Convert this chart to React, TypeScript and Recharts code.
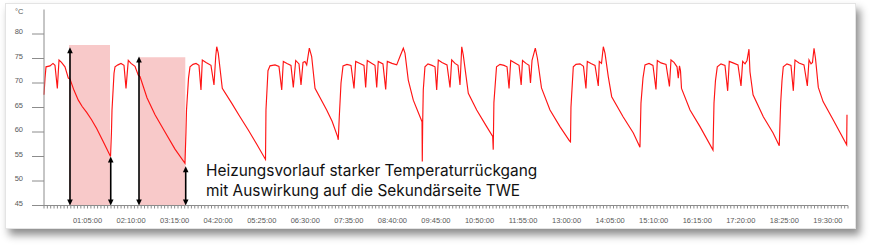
import React from "react";
import {
  LineChart,
  Line,
  XAxis,
  YAxis,
  ReferenceArea,
  ReferenceLine,
} from "recharts";

// time since 00:00 in minutes
const minutes = [
  0, 1.5, 3, 9, 13.4, 16.4, 19.9, 22.4, 26.1, 31.3, 36.3, 38.8, 44.8, 51.2, 57, 63.7, 71, 78.6, 88.5, 99.3, 100.7, 101.5, 104.5, 106,
  110.4, 114.9, 119.4, 122.4, 125.8, 129.9, 135.8, 140.7, 143.3, 153.7, 165.7, 180.6, 195.5, 210.4, 211.9, 212.7, 215.7, 217.9,
  222.4, 226.9, 231.3, 234.3, 236.3, 241.8, 249.2, 253.7, 256.3, 257.8, 260.1, 266.1, 280.1, 292, 304.9, 318, 330.6, 331.3, 334.3, 337.3,
  344.8, 350.7, 354.8, 357.2, 362.7, 368.6, 372.1, 375.7, 380.6, 383.6, 386.6, 389.5, 392.1, 396, 399.5, 404.5, 421.9, 430, 438.3, 439.2, 440.7, 443.3, 446.3,
  452.2, 458.2, 462.7, 465.2, 471.6, 477.6, 480.1, 482.5, 489.5, 494, 496.6, 498.9, 505.9, 510, 512.4, 519.4, 526.4, 531.3, 536.3, 538.8, 543.7, 551.2, 561.2, 564.2, 564.6, 565.2, 566.1, 568.6,
  573.1, 579.1, 583.6, 586.1, 588.5, 594, 601.5, 606, 608.5, 613.4, 617.9, 620.9, 623.5, 625.8, 633.3, 645.8, 660.7, 669.7, 670.5, 671.5, 675.4,
  680.6, 686.6, 691.1, 694.1, 696.6, 703, 709, 712.2, 714.2, 719.4, 723.9, 726.1, 728.4, 733.3, 736.5, 742.5, 755.2, 770.1, 784.3, 785.8, 786.5, 788, 790,
  794, 800, 805.2, 808.9, 810.9, 816.4, 822.4, 827.3, 828.8, 832.1, 834.8, 837.3, 842.2, 847.3, 864.3, 879.6, 889.5, 891, 894, 897,
  903, 908.9, 913.4, 915.4, 920.9, 928.4, 933.5, 935.8, 940.3, 944.8, 946.7, 948.5, 950, 951.5, 964.2, 979.1, 998.5, 1000, 1002.2, 1004.9,
  1010.4, 1016.4, 1020.4, 1022.8, 1028.4, 1035.8, 1040.3, 1042.8, 1046.3, 1049.3, 1052.2, 1053.7, 1058.3, 1073.6, 1088.2, 1097.4, 1099.5, 1101.5, 1103.4,
  1108.9, 1114.9, 1118.4, 1120.9, 1126.9, 1134.3, 1139.3, 1141.8, 1144.8, 1147, 1149.3, 1151.5, 1155.7, 1162.8, 1177.8, 1198, 1198.5,
];

// Vorlauftemperatur in °C
const tempC = [
  67.6, 71.0, 73.3, 73.5, 74.0, 73.6, 68.9, 74.7, 74.2, 73.3, 71.0, 70.8, 68.5, 66.5, 65.2, 64.0, 62.5, 60.7, 58.0, 55.0, 60.0, 64.5, 72.0, 73.3,
  73.7, 74.0, 73.6, 68.9, 74.6, 74.0, 73.4, 71.6, 71.3, 67.0, 63.5, 60.0, 56.5, 53.6, 60.0, 64.5, 71.0, 73.3,
  73.8, 74.0, 73.6, 68.6, 74.7, 74.2, 73.6, 69.6, 75.4, 77.4, 76.1, 68.9, 65.9, 63.2, 60.4, 57.4, 54.4, 64.5, 72.5, 73.5,
  73.7, 73.4, 68.6, 74.4, 74.0, 73.6, 69.1, 74.6, 73.9, 69.6, 74.2, 74.4, 73.7, 77.1, 75.4, 68.9, 64.5, 62.2, 59.0, 58.4, 63.0, 70.0, 73.5,
  73.8, 73.6, 68.9, 74.4, 74.0, 73.6, 69.1, 74.6, 74.0, 73.6, 69.1, 74.4, 73.9, 68.7, 74.4, 74.0, 73.7, 75.4, 77.1, 76.1, 70.6, 66.5, 63.1, 62.1, 54.0, 62.0, 68.6, 73.3,
  73.9, 73.6, 73.3, 68.6, 74.7, 74.2, 73.7, 69.1, 74.7, 74.0, 73.6, 69.6, 77.4, 75.7, 67.9, 64.5, 61.1, 59.1, 56.4, 66.0, 73.3,
  73.8, 73.6, 73.3, 68.9, 74.6, 74.1, 73.6, 69.6, 74.6, 74.0, 73.6, 70.0, 74.6, 77.1, 75.0, 69.0, 64.5, 61.1, 58.2, 58.0, 65.0, 68.6, 73.3,
  73.8, 73.9, 73.4, 68.9, 74.4, 74.0, 73.6, 69.4, 74.4, 74.0, 77.4, 76.1, 71.3, 67.2, 63.1, 59.8, 56.9, 65.9, 71.0, 73.7,
  74.0, 73.6, 68.7, 74.6, 74.1, 73.8, 69.3, 74.7, 74.2, 73.3, 71.0, 73.5, 72.5, 68.9, 64.5, 61.1, 56.3, 65.9, 70.5, 73.3,
  73.9, 73.6, 68.4, 74.4, 74.1, 73.7, 69.4, 74.4, 73.9, 74.6, 76.9, 72.3, 67.6, 63.1, 59.8, 57.2, 65.9, 70.5, 73.3,
  73.9, 73.6, 68.4, 74.7, 74.1, 73.7, 69.4, 74.7, 73.9, 74.2, 77.1, 75.0, 69.1, 66.2, 62.5, 57.4, 63.5,
];

const yTicks = [45, 50, 55, 60, 65, 70, 75, 80];
const xLabels = [
  "01:05:00", "02:10:00", "03:15:00", "04:20:00", "05:25:00", "06:30:00",
  "07:35:00", "08:40:00", "09:45:00", "10:50:00", "11:55:00", "13:00:00",
  "14:05:00", "15:10:00", "16:15:00", "17:20:00", "18:25:00", "19:30:00",
];

// shaded drop phases
const shadeStart = [37.3, 142.2];
const shadeEnd = [98.5, 210.9];
const shadeTop = [77.75, 75.25];

// double arrows (bottom at 45 °C)
const arrowAt = [38.8, 99.6, 141.8, 211.5];
const arrowTop = [77.3, 55.0, 75.4, 53.0];

const note = [
  "Heizungsvorlauf starker Temperaturrückgang",
  "mit Auswirkung auf die Sekundärseite TWE",
];

const data = minutes.map((t, i) => ({ t, v: tempC[i] }));
const minorTicks = Array.from({ length: 241 }, (_, i) => i * 5);
const labelAt = new Map(xLabels.map((l) => {
  const [h, m] = l.split(":").map(Number);
  return [h * 60 + m, l];
}));

const AXIS = "#8c8c8c";
const LABEL = "#595959";
const FONT = "'Liberation Sans', Arial, sans-serif";

function XTick({ x, y, payload }: any) {
  const label = labelAt.get(payload.value);
  if (!label) return null;
  return (
    <text x={x} y={y} dy={14.8} textAnchor="middle" fontSize={7.5} fill={LABEL} fontFamily={FONT}>
      {label}
    </text>
  );
}

function YTick({ x, y, payload }: any) {
  return (
    <text x={x} y={y} textAnchor="end" fontSize={7.5} fill={LABEL} fontFamily={FONT}>
      {payload.value}
    </text>
  );
}

function DoubleArrow({ x1, y1, x2, y2 }: any) {
  const top = Math.min(y1, y2);
  const bottom = Math.max(y1, y2);
  const h = 6;
  const w = 2.8;
  return (
    <g>
      <line x1={x1} x2={x2} y1={top + h - 1} y2={bottom - h + 1} stroke="#000" strokeWidth={1.6} />
      <polygon points={`${x1},${top} ${x1 - w},${top + h} ${x1 + w},${top + h}`} fill="#000" />
      <polygon points={`${x1},${bottom} ${x1 - w},${bottom - h} ${x1 + w},${bottom - h}`} fill="#000" />
    </g>
  );
}

export default function App() {
  return (
    <div style={{ position: "fixed", left: 0, top: 0, width: 872, height: 247, background: "#fff" }}>
      <div
        style={{
          position: "absolute",
          left: 5,
          top: 3,
          width: 849,
          height: 224,
          background: "#fff",
          border: "1px solid #e4e4e4",
          boxShadow: "4px 6px 8px rgba(0,0,0,0.45)",
        }}
      />
      <div style={{ position: "absolute", left: 0, top: 0 }}>
        <LineChart
          width={872}
          height={247}
          data={data}
          margin={{ top: 9.5, right: 24, left: 0, bottom: 11 }}
        >
          <XAxis
            dataKey="t"
            type="number"
            domain={[0, 1200]}
            ticks={minorTicks}
            interval={0}
            tickSize={3}
            tickMargin={0}
            height={30.5}
            stroke={AXIS}
            tickLine={{ stroke: AXIS }}
            tick={<XTick />}
          />
          <YAxis
            type="number"
            domain={[45, 85]}
            ticks={yTicks}
            width={44}
            tickSize={12}
            tickMargin={9}
            stroke={AXIS}
            tickLine={{ stroke: AXIS }}
            tick={<YTick />}
          />
          {shadeStart.map((s, i) => (
            <ReferenceArea
              key={`a${i}`}
              x1={s}
              x2={shadeEnd[i]}
              y1={45}
              y2={shadeTop[i]}
              fill="#f8c9c9"
              fillOpacity={1}
              stroke="none"
            />
          ))}
          <Line
            type="linear"
            dataKey="v"
            stroke="#ff1414"
            strokeWidth={1.15}
            dot={false}
            isAnimationActive={false}
          />
          {arrowAt.map((m, i) => (
            <ReferenceLine
              key={`r${i}`}
              segment={[
                { x: m, y: 45 },
                { x: m, y: arrowTop[i] },
              ]}
              shape={(p: any) => <DoubleArrow {...p} />}
            />
          ))}
        </LineChart>
      </div>
      <div style={{ position: "absolute", left: 15, top: 7, fontSize: 7.5, lineHeight: "9px", color: LABEL, fontFamily: FONT }}>
        °C
      </div>
      <div
        style={{
          position: "absolute",
          left: 206,
          top: 161,
          fontSize: 15.4,
          lineHeight: "20px",
          color: "#111",
          fontFamily: "Inter, sans-serif",
          whiteSpace: "nowrap",
        }}
      >
        {note.map((n) => (
          <div key={n}>{n}</div>
        ))}
      </div>
    </div>
  );
}
